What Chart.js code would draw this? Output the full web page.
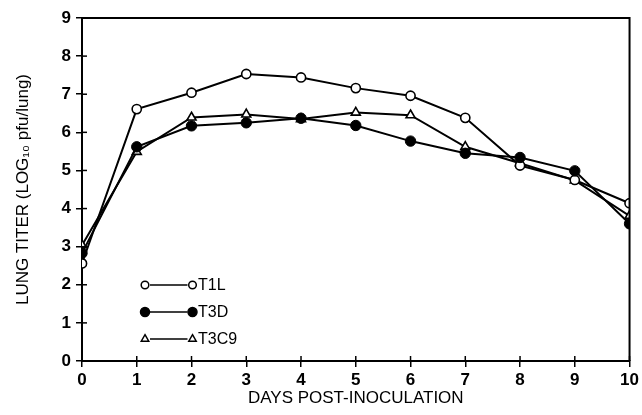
<!DOCTYPE html>
<html>
<head>
<meta charset="utf-8">
<script src="https://cdn.jsdelivr.net/npm/chart.js@4/dist/chart.umd.min.js"></script>
<style>
  html, body { margin: 0; padding: 0; background: #fff; }
  #wrap { width: 642px; height: 415px; }
</style>
</head>
<body>
<div id="wrap"><canvas id="c" width="642" height="415"></canvas></div>
<script>
// ---- data ----
const days = [0, 1, 2, 3, 4, 5, 6, 7, 8, 9, 10];
const t1l  = [2.56, 6.61, 7.04, 7.53, 7.44, 7.16, 6.96, 6.38, 5.13, 4.75, 4.14];
const t3d  = [2.83, 5.62, 6.17, 6.25, 6.37, 6.18, 5.77, 5.45, 5.34, 4.99, 3.60];
const t3c9 = [3.04, 5.49, 6.39, 6.47, 6.35, 6.52, 6.45, 5.62, 5.19, 4.74, 3.81];
const seriesNames = ['T1L', 'T3D', 'T3C9'];
const xTitle = 'DAYS POST-INOCULATION';
const yTitle = 'LUNG TITER (LOG\u2081\u2080 pfu/lung)';

const pts = arr => days.map((d, i) => ({ x: d, y: arr[i] }));
const FONT = "'Liberation Sans', Arial, Helvetica, sans-serif";

const framePlugin = {
  id: 'frame',
  afterDraw(chart) {
    const ctx = chart.ctx;
    const a = chart.chartArea;
    ctx.save();
    ctx.strokeStyle = '#000';
    ctx.lineWidth = 2;
    // top and right border
    ctx.beginPath();
    ctx.moveTo(a.left, a.top);
    ctx.lineTo(a.right, a.top);
    ctx.lineTo(a.right, a.bottom);
    ctx.stroke();
    // inner tick halves
    ctx.lineWidth = 1.5;
    const xs = chart.scales.x, ys = chart.scales.y;
    xs.ticks.forEach(t => {
      const px = xs.getPixelForValue(t.value);
      ctx.beginPath(); ctx.moveTo(px, a.bottom); ctx.lineTo(px, a.bottom - 5); ctx.stroke();
    });
    ys.ticks.forEach(t => {
      const py = ys.getPixelForValue(t.value);
      ctx.beginPath(); ctx.moveTo(a.left, py); ctx.lineTo(a.left + 5, py); ctx.stroke();
    });
    // legend: marker — line — marker  label
    const rows = [
      { ds: 0, dy: -76 },
      { ds: 1, dy: -49 },
      { ds: 2, dy: -22 }
    ];
    rows.forEach(r => {
      const ds = chart.data.datasets[r.ds];
      const y = a.bottom + r.dy;
      const x1 = a.left + 63, x2 = a.left + 110.5;
      ctx.strokeStyle = '#000';
      ctx.lineWidth = 1.5;
      ctx.beginPath(); ctx.moveTo(x1 + 5, y); ctx.lineTo(x2 - 5, y); ctx.stroke();
      const style = {
        pointStyle: ds.pointStyle,
        radius: ds.pointStyle === 'triangle' ? 4.3 : (ds.pointBackgroundColor === '#000' ? 4.5 : 3.8),
        rotation: 0,
        borderWidth: 1.5
      };
      ctx.fillStyle = ds.pointBackgroundColor;
      ctx.strokeStyle = '#000';
      ctx.lineWidth = 1.5;
      Chart.helpers.drawPoint(ctx, style, x1, y);
      ctx.fillStyle = ds.pointBackgroundColor;
      Chart.helpers.drawPoint(ctx, style, x2, y);
      ctx.fillStyle = '#000';
      ctx.font = '16px ' + FONT;
      ctx.textAlign = 'left';
      ctx.textBaseline = 'middle';
      ctx.fillText(ds.label, a.left + 116, y + 1);
    });
    ctx.restore();
  }
};

new Chart(document.getElementById('c'), {
  type: 'line',
  data: {
    datasets: [
      {
        label: seriesNames[0], data: pts(t1l), order: 1,
        borderColor: '#000', borderWidth: 2,
        pointStyle: 'circle', pointRadius: 4.6, pointBorderWidth: 1.6,
        pointBackgroundColor: '#fff', pointBorderColor: '#000'
      },
      {
        label: seriesNames[1], data: pts(t3d), order: 0,
        borderColor: '#000', borderWidth: 2,
        pointStyle: 'circle', pointRadius: 5.2, pointBorderWidth: 1,
        pointBackgroundColor: '#000', pointBorderColor: '#000'
      },
      {
        label: seriesNames[2], data: pts(t3c9), order: 2,
        borderColor: '#000', borderWidth: 2,
        pointStyle: 'triangle', pointRadius: 5.2, pointBorderWidth: 1.6,
        pointBackgroundColor: '#fff', pointBorderColor: '#000'
      }
    ]
  },
  options: {
    responsive: false,
    animation: false,
    devicePixelRatio: 1,
    layout: { padding: { left: 0, right: 12, top: 18, bottom: 0 } },
    plugins: { legend: { display: false }, tooltip: { enabled: false } },
    elements: { line: { tension: 0 } },
    scales: {
      x: {
        type: 'linear', min: 0, max: 10,
        ticks: { stepSize: 1, color: '#000', padding: 3, font: { family: FONT, size: 17, weight: 'bold' } },
        grid: { display: true, drawOnChartArea: false, drawTicks: true, tickLength: 6, color: '#000', lineWidth: 1.5 },
        border: { display: true, color: '#000', width: 2 },
        title: { display: true, text: xTitle, color: '#000', font: { family: FONT, size: 17 }, padding: { top: 0, bottom: 6 } },
        afterFit(s) { s.height = 54; }
      },
      y: {
        min: 0, max: 9,
        ticks: { stepSize: 1, color: '#000', padding: 5, font: { family: FONT, size: 17, weight: 'bold' } },
        grid: { display: true, drawOnChartArea: false, drawTicks: true, tickLength: 6, color: '#000', lineWidth: 1.5 },
        border: { display: true, color: '#000', width: 2 },
        title: { display: true, text: yTitle, color: '#000', font: { family: FONT, size: 17 }, padding: { top: 13, bottom: 0 } },
        afterFit(s) { s.width = 82; }
      }
    }
  },
  plugins: [framePlugin]
});
</script>
</body>
</html>
